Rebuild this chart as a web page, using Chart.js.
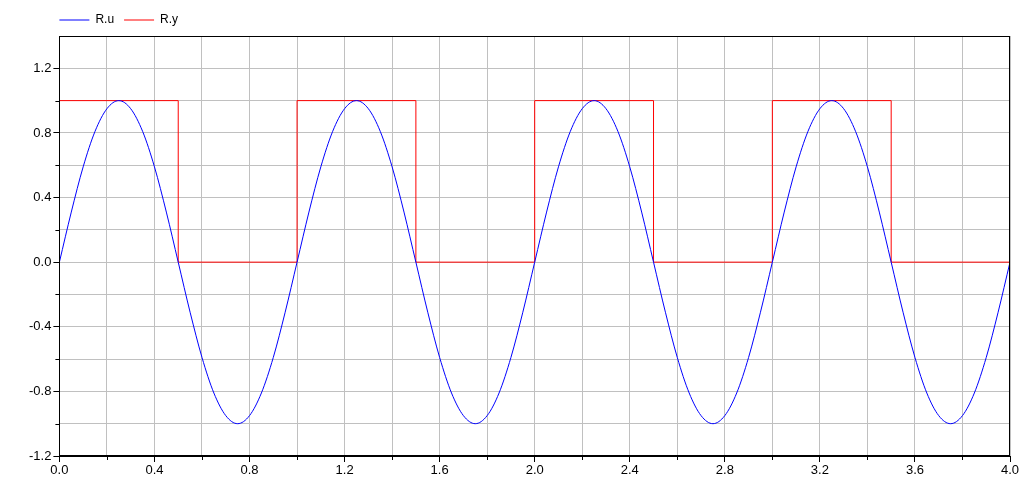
<!DOCTYPE html>
<html>
<head>
<meta charset="utf-8">
<script src="https://cdn.jsdelivr.net/npm/chart.js@4.4.1/dist/chart.umd.min.js"></script>
<style>
  html, body { margin: 0; padding: 0; background: #fff; }
  #wrap { width: 1034px; height: 481px; position: relative; }
</style>
</head>
<body>
<div id="wrap"><canvas id="c"></canvas></div>
<script>
// Time samples for R.u
const uTimes = [
  0.00,0.05,0.10,0.15,0.20,0.25,0.30,0.35,0.40,0.45,
  0.50,0.55,0.60,0.65,0.70,0.75,0.80,0.85,0.90,0.95,
  1.00,1.05,1.10,1.15,1.20,1.25,1.30,1.35,1.40,1.45,
  1.50,1.55,1.60,1.65,1.70,1.75,1.80,1.85,1.90,1.95,
  2.00,2.05,2.10,2.15,2.20,2.25,2.30,2.35,2.40,2.45,
  2.50,2.55,2.60,2.65,2.70,2.75,2.80,2.85,2.90,2.95,
  3.00,3.05,3.10,3.15,3.20,3.25,3.30,3.35,3.40,3.45,
  3.50,3.55,3.60,3.65,3.70,3.75,3.80,3.85,3.90,3.95,
  4.00
];
// R.u values
const uValues = [
  0.00,0.31,0.59,0.81,0.95,1.00,0.95,0.81,0.59,0.31,
  0.00,-0.31,-0.59,-0.81,-0.95,-1.00,-0.95,-0.81,-0.59,-0.31,
  0.00,0.31,0.59,0.81,0.95,1.00,0.95,0.81,0.59,0.31,
  0.00,-0.31,-0.59,-0.81,-0.95,-1.00,-0.95,-0.81,-0.59,-0.31,
  0.00,0.31,0.59,0.81,0.95,1.00,0.95,0.81,0.59,0.31,
  0.00,-0.31,-0.59,-0.81,-0.95,-1.00,-0.95,-0.81,-0.59,-0.31,
  0.00,0.31,0.59,0.81,0.95,1.00,0.95,0.81,0.59,0.31,
  0.00,-0.31,-0.59,-0.81,-0.95,-1.00,-0.95,-0.81,-0.59,-0.31,
  0.00
];
// R.y switching times and held values
const yTimes  = [0.0, 0.5, 1.0, 1.5, 2.0, 2.5, 3.0, 3.5, 4.0];
const yValues = [1,   0,   1,   0,   1,   0,   1,   0,   0];

const seriesNames = ['R.u', 'R.y'];
const seriesColors = ['#0000ff', '#ff0000'];

const xMin = 0, xMax = 4, xStep = 0.2, xLabelStep = 0.4;
const yMin = -1.2, yMax = 1.4, yStep = 0.2, yLabelStep = 0.4;

const FONT = 'Liberation Sans, Arial, sans-serif';
const GRID = '#c0c0c0';
const MAJOR_LEN = 6, MINOR_LEN = 4;

function isMajor(value, step) {
  const k = Math.round(value / step);
  return Math.abs(k * step - value) < 1e-6;
}
function labelEvery(step) {
  return function (value) {
    return isMajor(value, step) ? (Math.round(value / step) * step).toFixed(1) : '';
  };
}
function majorTickColor(step) {
  return function (ctx) {
    return (ctx.tick && isMajor(ctx.tick.value, step)) ? '#000' : 'rgba(0,0,0,0)';
  };
}

const LEGEND_PAD = 10;

const frame = {
  id: 'frame',
  beforeDraw(chart) {
    // start the legend row at the plot's left edge
    if (chart.legend) {
      const dx = chart.chartArea.left - LEGEND_PAD - chart.legend.left;
      chart.legend.left += dx;
      chart.legend.right += dx;
    }
  },
  afterDraw(chart) {
    const a = chart.chartArea, ctx = chart.ctx;
    ctx.save();
    ctx.strokeStyle = '#000';
    ctx.lineWidth = 1;
    // minor tick marks (shorter)
    const xs = chart.scales.x, ys = chart.scales.y;
    ctx.beginPath();
    xs.ticks.forEach(t => {
      if (!isMajor(t.value, xLabelStep)) {
        const px = Math.round(xs.getPixelForValue(t.value)) + 0.5;
        ctx.moveTo(px, a.bottom);
        ctx.lineTo(px, a.bottom + MINOR_LEN);
      }
    });
    ys.ticks.forEach(t => {
      if (!isMajor(t.value, yLabelStep) && t.value < yMax - 1e-6) {
        const py = Math.round(ys.getPixelForValue(t.value)) + 0.5;
        ctx.moveTo(a.left - MINOR_LEN, py);
        ctx.lineTo(a.left, py);
      }
    });
    ctx.stroke();
    // plot frame
    ctx.strokeRect(Math.round(a.left) + 0.5, Math.round(a.top) + 0.5,
                   Math.round(a.right - a.left) - 1, Math.round(a.bottom - a.top) - 1);
    ctx.restore();
  }
};

new Chart(document.getElementById('c'), {
  type: 'line',
  data: {
    datasets: [
      {
        label: seriesNames[0],
        data: uTimes.map((t, i) => ({ x: t, y: uValues[i] })),
        borderColor: seriesColors[0],
        backgroundColor: seriesColors[0],
        borderWidth: 1,
        pointRadius: 0,
        cubicInterpolationMode: 'monotone',
        fill: false
      },
      {
        label: seriesNames[1],
        data: yTimes.map((t, i) => ({ x: t, y: yValues[i] })),
        borderColor: seriesColors[1],
        backgroundColor: seriesColors[1],
        borderWidth: 1,
        pointRadius: 0,
        stepped: 'before',
        fill: false
      }
    ]
  },
  options: {
    responsive: true,
    maintainAspectRatio: false,
    animation: false,
    events: [],
    layout: { padding: { left: 27, right: 24, top: 4, bottom: 0 } },
    plugins: {
      legend: {
        display: true,
        position: 'top',
        align: 'start',
        labels: {
          usePointStyle: true,
          pointStyle: 'line',
          pointStyleWidth: 30,
          padding: LEGEND_PAD,
          color: '#000',
          font: { family: FONT, size: 12 }
        }
      },
      tooltip: { enabled: false }
    },
    scales: {
      x: {
        type: 'linear',
        min: xMin, max: xMax,
        border: { display: true, color: '#000', width: 1 },
        grid: { color: GRID, lineWidth: 1, tickColor: majorTickColor(xLabelStep), tickLength: MAJOR_LEN },
        ticks: {
          stepSize: xStep, autoSkip: false, maxRotation: 0, padding: 1,
          color: '#000',
          font: { family: FONT, size: 13 },
          callback: labelEvery(xLabelStep)
        },
        afterFit(scale) { scale.height = 25; }
      },
      y: {
        type: 'linear',
        min: yMin, max: yMax,
        border: { display: true, color: '#000', width: 1 },
        grid: { color: GRID, lineWidth: 1, tickColor: majorTickColor(yLabelStep), tickLength: MAJOR_LEN },
        ticks: {
          stepSize: yStep, autoSkip: false, padding: 2,
          color: '#000',
          font: { family: FONT, size: 13 },
          callback: labelEvery(yLabelStep)
        }
      }
    }
  },
  plugins: [frame]
});
</script>
</body>
</html>
